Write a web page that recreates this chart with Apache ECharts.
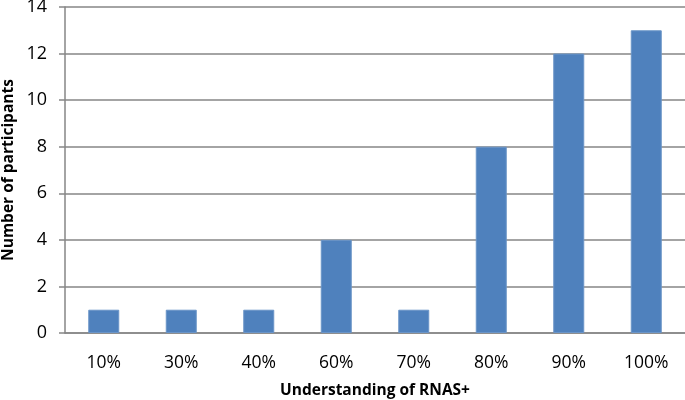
<!DOCTYPE html>
<html>
<head>
<meta charset="utf-8">
<script src="https://cdn.jsdelivr.net/npm/echarts@6/dist/echarts.min.js"></script>
<style>
html, body { margin: 0; padding: 0; background: #fff; }
#chart { width: 685px; height: 400px; }
</style>
</head>
<body>
<div id="chart"></div>
<script>
// 理解程度分类与人数
let categories = ['10%', '30%', '40%', '60%', '70%', '80%', '90%', '100%'];
let participants = [1, 1, 1, 4, 1, 8, 12, 13];
let yTicks = { min: 0, max: 14, interval: 2 };

let chart = echarts.init(document.getElementById('chart'));
let option = {
    animation: false,
    grid: {
        left: 65,
        right: 0,
        top: 7,
        bottom: 67,
        containLabel: false,
        outerBoundsMode: 'none'
    },
    xAxis: {
        type: 'category',
        data: categories,
        name: 'Understanding of RNAS+',
        nameLocation: 'middle',
        nameGap: 50,
        nameMoveOverlap: false,
        nameTextStyle: {
            fontFamily: 'Open Sans',
            fontWeight: 'bold',
            fontSize: 15.5,
            color: '#000'
        },
        axisLine: { lineStyle: { color: '#868686', width: 1.5 } },
        axisTick: { show: false },
        axisLabel: {
            fontFamily: 'Open Sans',
            fontSize: 17.5,
            color: '#000',
            margin: 21
        }
    },
    yAxis: {
        type: 'value',
        min: yTicks.min,
        max: yTicks.max,
        interval: yTicks.interval,
        name: 'Number of participants',
        nameLocation: 'middle',
        nameGap: 48,
        nameMoveOverlap: false,
        nameTextStyle: {
            fontFamily: 'Open Sans',
            fontWeight: 'bold',
            fontSize: 15.5,
            color: '#000'
        },
        axisLine: { show: true, lineStyle: { color: '#868686', width: 1.5 } },
        axisTick: { show: true, length: 6, lineStyle: { color: '#868686', width: 1.5 } },
        splitLine: { lineStyle: { color: '#868686', width: 1.5 } },
        axisLabel: {
            fontFamily: 'Open Sans',
            fontSize: 18,
            color: '#000',
            margin: 18
        }
    },
    series: [
        {
            type: 'bar',
            data: participants,
            barWidth: '40%',
            itemStyle: {
                color: '#4f81bd',
                borderColor: '#6b95c8',
                borderWidth: 1
            }
        }
    ]
};
chart.setOption(option);
</script>
</body>
</html>
